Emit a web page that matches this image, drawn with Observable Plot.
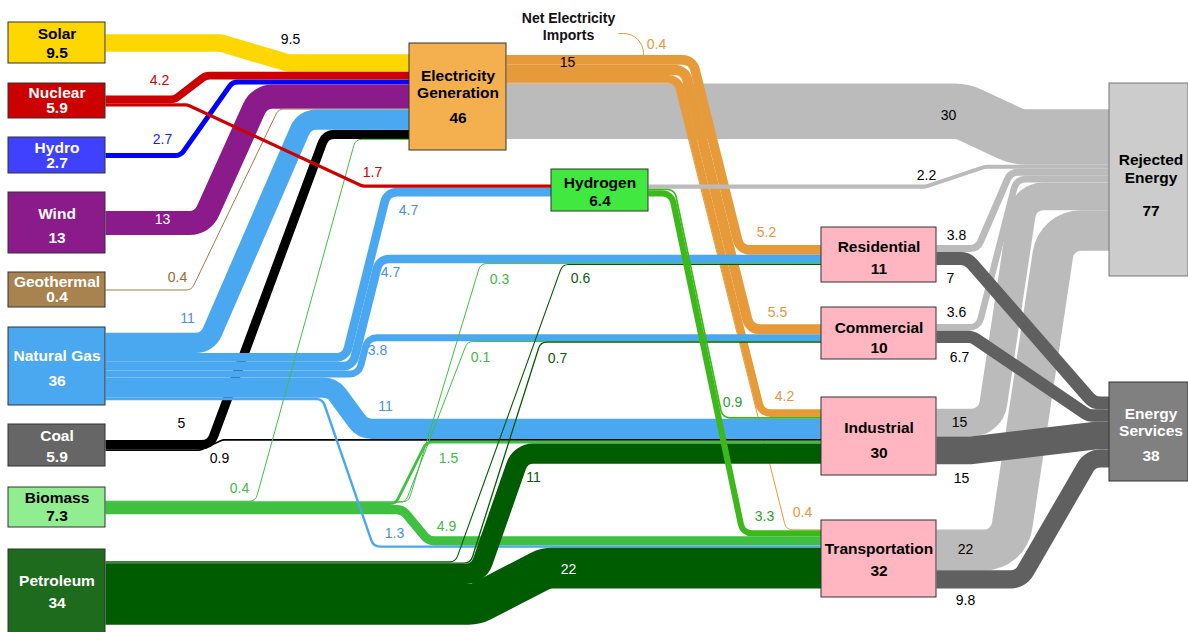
<!DOCTYPE html>
<html><head><meta charset="utf-8">
<script src="https://cdn.jsdelivr.net/npm/d3@7"></script>
<script src="https://cdn.jsdelivr.net/npm/@observablehq/plot@0.6"></script>
<style>html,body{margin:0;padding:0;background:#fff;overflow:hidden} svg{display:block}</style>
</head><body><div id="chart"></div>
<script>
// ================= DATA =================
const nodeNames = ["Solar","Nuclear","Hydro","Wind","Geothermal","Natural Gas","Coal","Biomass","Petroleum",
  "Electricity Generation","Hydrogen","Residential","Commercial","Industrial","Transportation","Rejected Energy","Energy Services"];
const nodeValues = [9.5,5.9,2.7,13,0.4,36,5.9,7.3,34,46,6.4,11,10,30,32,77,38];

const flowSource = ["Solar","Nuclear","Nuclear","Hydro","Wind","Geothermal",
  "Natural Gas","Natural Gas","Natural Gas","Natural Gas","Natural Gas","Natural Gas",
  "Coal","Coal","Biomass","Biomass","Biomass","Biomass","Biomass",
  "Petroleum","Petroleum","Petroleum","Petroleum",
  "Electricity Generation","Electricity Generation","Electricity Generation","Electricity Generation","Electricity Generation",
  "Hydrogen","Hydrogen","Hydrogen",
  "Residential","Residential","Commercial","Commercial","Industrial","Industrial","Transportation","Transportation"];
const flowTarget = ["Electricity Generation","Electricity Generation","Hydrogen","Electricity Generation","Electricity Generation","Electricity Generation",
  "Electricity Generation","Hydrogen","Residential","Commercial","Industrial","Transportation",
  "Electricity Generation","Industrial","Electricity Generation","Residential","Commercial","Industrial","Transportation",
  "Residential","Commercial","Industrial","Transportation",
  "Residential","Commercial","Industrial","Transportation","Rejected Energy",
  "Rejected Energy","Industrial","Transportation",
  "Rejected Energy","Energy Services","Rejected Energy","Energy Services","Rejected Energy","Energy Services","Rejected Energy","Energy Services"];
const flowValue = [9.5,4.2,1.7,2.7,13,0.4,
  11,4.7,4.7,3.8,11,1.3,
  5,0.9,0.4,0.3,0.1,1.5,4.9,
  0.6,0.7,11,22,
  5.2,5.5,4.2,0.4,30,
  2.2,0.9,3.3,
  3.8,7,3.6,6.7,15,15,22,9.8];
const importsName = "Net Electricity Imports";
const importsValue = 0.4;

// order of inflows (top to bottom) at each receiving node
const inflowOrder = {
  "Electricity Generation": ["Solar","Nuclear","Hydro","Wind","Geothermal","Natural Gas","Coal","Biomass"],
  "Hydrogen": ["Nuclear","Natural Gas"],
  "Residential": ["Electricity Generation","Natural Gas","Biomass","Petroleum"],
  "Commercial": ["Electricity Generation","Natural Gas","Biomass","Petroleum"],
  "Industrial": ["Electricity Generation","Hydrogen","Natural Gas","Coal","Biomass","Petroleum"],
  "Transportation": ["Electricity Generation","Hydrogen","Biomass","Natural Gas","Petroleum"],
  "Rejected Energy": ["Electricity Generation","Hydrogen","Residential","Commercial","Industrial","Transportation"],
  "Energy Services": ["Residential","Commercial","Industrial","Transportation"]
};

// ================= LAYOUT (positions) =================
const K = 1.85; // px per unit of flow
const nodeBox = [ // x0,y0,x1,y1
  [8,22,105,63],[8,83,105,118],[8,137,105,173],[8,192,105,253],[8,272,105,307],
  [8,327,105,405],[8,424,105,466],[8,487,105,527],[8,549,105,636],
  [409,43,506,150],[551,169,648,211],
  [821,227,936,282],[821,307,936,359],[821,397,936,475],[821,520,936,597],
  [1109,83,1188,276],[1109,382,1188,481]];
const nodeTextY = [[34,53],[92.5,108],[147.5,163],[214,237.5],[282,297],[356,381],[436,457],[497.5,516],[581,603],
  [76,93,117.5],[182.5,201],[247,269],[327.5,347.5],[427.5,452.5],[549,571],[160,178,211],[414,431,456]];
// x of diagonal start / end for single flows
const diag = {0:[220,288],1:[174,205],2:[187,362],3:[180,232],4:[202,259],5:[191,278],6:[207,304],
  10:[332,362],11:[322,373],12:[210,325],13:[200,222],14:[255,355],15:[408,480],16:[405,467],17:[395,426],18:[402,428],
  19:[455,562],20:[470,540],21:[478,520],22:[475,545],27:[962,1017],28:[925,985],
  31:[977,1010],32:[967,1093],33:[978,1016],34:[972,1088],35:[990,1024],36:[970,1095],37:[1008,1056],38:[1020,1090]};
// bundles sharing a diagonal: centreline from p (source side) to q
const groups = [
  {members:[23,24,25,26], p:[692.6,100], q:[767.6,400]},
  {members:[7,8,9], p:[362.6,320], q:[392.6,200]},
  {members:[29,30], p:[676,213], q:[739,513]}];
const importsStart = [618,33], importsX = 643;
const drawOrder = [27,31,33,35,37,32,34,36,38,23,24,25,26,"imports",28,
  0,3,4,5,12,13,6,7,8,9,10,14,15,16,17,18,11,22,21,19,20,1,2,29,30];

// ================= STYLES =================
const font = "'Liberation Sans', Arial, Helvetica, sans-serif";
const nodeFill = ["#FFD700","#CC0000","#4040FF","#8B1A8B","#A8834F","#4AA8F0","#666666","#90EE90","#1E6B1E",
  "#F4B04F","#40E840","#FFB6C1","#FFB6C1","#FFB6C1","#FFB6C1","#CCCCCC","#808080"];
const nodeTextColor = ["#000","#fff","#fff","#fff","#fff","#fff","#fff","#000","#fff","#000","#000","#000","#000","#000","#000","#000","#fff"];
const bandColor = {"Solar":"#FFD700","Nuclear":"#CC0000","Hydro":"#0000FF","Wind":"#8B1A8B","Geothermal":"#A67A44",
  "Natural Gas":"#4AA8F0","Coal":"#000000","Biomass":"#40C040","Petroleum":"#005C00",
  "Electricity Generation":"#E69A3A","Hydrogen":"#3CB81A"};
const rejectedColor = "#BBBBBB", servicesColor = "#606060";
const flowLabels = [[0,290,39,"#000"],[1,159,80,"#CC0000"],[3,162,139,"#1a1aee"],[4,162,219,"#fff"],[5,177,277,"#9a6a34"],
  [6,187,318,"#4a8fe0"],[12,181,423,"#000"],[13,219,458,"#000"],[14,239,488,"#44b944"],[2,372,172,"#CC0000"],
  [7,408,210,"#4a8fe0"],[8,390,272,"#4a8fe0"],[9,377,350,"#4a8fe0"],[10,385,406,"#4a8fe0"],[11,394,533,"#4a8fe0"],
  [15,499,279,"#44b944"],[16,480,357,"#44b944"],[17,448,458,"#44b944"],[18,446,526,"#44b944"],
  [19,580,278,"#0c5c0c"],[20,557,358,"#0c5c0c"],[21,533,477,"#0c5c0c"],[22,568,569,"#fff"],
  [23,766,232,"#e8963c"],[24,777,312,"#e8963c"],[25,784,396,"#e8963c"],[26,802,512,"#e8963c"],
  [27,948,115,"#000"],[28,926,175,"#000"],[29,732,402,"#2e9e2e"],[30,764,516,"#2e9e2e"],
  [31,956,235,"#000"],[32,950,278,"#000"],[33,956,312,"#000"],[34,959,357,"#000"],
  [35,959,422,"#000"],[36,961,478,"#000"],[37,965,549,"#000"],[38,965,600,"#000"]];

// ================= BUILD =================
const idx = new Map(nodeNames.map((n,i)=>[n,i]));
const flows = flowValue.map((v,i)=>({i, s: idx.get(flowSource[i]), t: idx.get(flowTarget[i]), v, w: v*K}));
nodeNames.forEach((name, n) => {
  const [x0,y0,x1,y1] = nodeBox[n];
  const cy = (y0+y1)/2;
  const outs = flows.filter(f => f.s === n);
  let y = cy - d3.sum(outs, f=>f.w)/2;
  for (const f of outs) { f.ys = y + f.w/2; y += f.w; }
  const order = inflowOrder[name] || [];
  const ins = flows.filter(f => f.t === n).sort((a,b)=> order.indexOf(nodeNames[a.s]) - order.indexOf(nodeNames[b.s]));
  y = cy - d3.sum(ins, f=>f.w)/2;
  for (const f of ins) { f.ye = y + f.w/2; y += f.w; }
});
for (const f of flows) {
  f.xs = nodeBox[f.s][2]; f.xe = nodeBox[f.t][0];
  if (diag[f.i]) [f.xa, f.xb] = diag[f.i];
  const tn = nodeNames[f.t];
  f.color = tn === "Rejected Energy" ? rejectedColor : tn === "Energy Services" ? servicesColor : bandColor[nodeNames[f.s]];
}
for (const g of groups) {
  const ms = g.members.map(i=>flows[i]);
  const top = ms[0].ys - ms[0].w/2, last = ms[ms.length-1], bot = last.ys + last.w/2;
  const gc = (top+bot)/2;
  const dx = g.q[0]-g.p[0], dy = g.q[1]-g.p[1], L = Math.hypot(dx,dy);
  const nx = -dy/L, ny = dx/L;
  for (const f of ms) {
    const o = f.ys - gc;
    const px = g.p[0] + o*nx, py = g.p[1] + o*ny;
    const xAt = y => px + (y - py)*dx/dy;
    f.xa = xAt(f.ys); f.xb = xAt(f.ye);
  }
}
for (const f of flows) f.pts = [[f.xs,f.ys],[f.xa,f.ys],[f.xb,f.ye],[f.xe,f.ye]];

// rounded-corner curve (D3 curve factory)
function roundCurve(R) {
  return function(context) {
    let pts = [];
    return {
      areaStart() {}, areaEnd() {},
      lineStart() { pts = []; },
      point(x, y) { pts.push([+x, +y]); },
      lineEnd() {
        const n = pts.length;
        if (!n) return;
        context.moveTo(pts[0][0], pts[0][1]);
        for (let i = 1; i < n - 1; i++) {
          const a = pts[i-1], b = pts[i], c = pts[i+1];
          const l1 = Math.hypot(b[0]-a[0], b[1]-a[1]), l2 = Math.hypot(c[0]-b[0], c[1]-b[1]);
          if (l1 < 1e-6 || l2 < 1e-6) { context.lineTo(b[0], b[1]); continue; }
          const dot = ((b[0]-a[0])*(c[0]-b[0]) + (b[1]-a[1])*(c[1]-b[1]))/(l1*l2);
          const ang = Math.acos(Math.max(-1, Math.min(1, dot)));
          if (ang < 1e-3) { context.lineTo(b[0], b[1]); continue; }
          const t = Math.tan(ang/2);
          const m1 = i === 1 ? l1 : l1/2, m2 = i === n-2 ? l2 : l2/2;
          const r = Math.min(R, Math.min(m1, m2)/t);
          context.arcTo(b[0], b[1], c[0], c[1], r);
        }
        context.lineTo(pts[n-1][0], pts[n-1][1]);
      }
    };
  };
}

const elecIdx = idx.get("Electricity Generation");
const elecOuts = flows.filter(f => f.s === elecIdx);
const orangeTop = elecOuts[0].ys - elecOuts[0].w/2;
const importsPts = [importsStart, [importsX, importsStart[1]], [importsX, orangeTop + 1.5]];

const marks = [];
for (const id of drawOrder) {
  if (id === "imports") {
    marks.push(Plot.line(importsPts, {x: d=>d[0], y: d=>d[1], stroke: bandColor["Electricity Generation"], strokeWidth: 1,
      curve: roundCurve(20), strokeLinecap: "butt"}));
    continue;
  }
  const f = flows[id];
  const sw = Math.max(1, f.w);
  marks.push(Plot.line(f.pts, {x: d=>d[0], y: d=>d[1], stroke: f.color, strokeWidth: sw,
    curve: roundCurve(sw/2 + 8), strokeLinecap: "butt", strokeLinejoin: "round"}));
}

// node boxes
const nodeData = nodeNames.map((n,i)=>({x0: nodeBox[i][0], y0: nodeBox[i][1], x1: nodeBox[i][2], y1: nodeBox[i][3],
  fill: nodeFill[i], stroke: n === "Rejected Energy" ? "#777777" : "#333333"}));
marks.push(Plot.rect(nodeData, {x1:"x0", x2:"x1", y1:"y0", y2:"y1", fill:"fill", stroke:"stroke", strokeWidth: 1}));

// node texts
const nodeText = [];
nodeNames.forEach((n,i)=>{
  const ys = nodeTextY[i];
  const lines = ys.length === 3 ? [n.slice(0, n.indexOf(" ")), n.slice(n.indexOf(" ")+1)] : [n];
  lines.push(String(nodeValues[i]));
  const cx = (nodeBox[i][0] + nodeBox[i][2]) / 2 + (i >= 15 ? 2 : 0);
  lines.forEach((t,j)=> nodeText.push({x: cx, y: ys[j], text: t, color: nodeTextColor[i]}));
});
marks.push(Plot.text(nodeText, {x:"x", y:"y", text:"text", fill:"color", fontSize: 15.5, fontWeight: "bold", fontFamily: font}));

// flow labels
const flowText = flowLabels.map(([i,x,y,c]) => ({x, y, text: String(flowValue[i]), color: c}));
flowText.push({x: 567, y: 62, text: d3.format(".2r")(d3.sum(elecOuts.filter(f=>nodeNames[f.t] !== "Rejected Energy"), f=>f.v)), color: "#000"});
flowText.push({x: 656, y: 44, text: String(importsValue), color: "#e8963c"});
marks.push(Plot.text(flowText, {x:"x", y:"y", text:"text", fill:"color", fontSize: 14, fontFamily: font}));
const sp = importsName.lastIndexOf(" ");
marks.push(Plot.text([{x: 568, y: 25.5, text: importsName.slice(0, sp) + "\n" + importsName.slice(sp+1)}],
  {x:"x", y:"y", text:"text", fill: "#111", fontSize: 14, fontWeight: "bold", fontFamily: font, lineHeight: 1.2}));

const chart = Plot.plot({
  width: 1188, height: 632, margin: 0,
  x: {domain: [0, 1188], range: [0, 1188], axis: null},
  y: {domain: [0, 632], range: [0, 632], axis: null},
  color: {type: "identity"},
  style: {fontFamily: font, background: "#fff", overflow: "hidden"},
  marks
});
document.getElementById("chart").append(chart);
</script>
</body></html>
